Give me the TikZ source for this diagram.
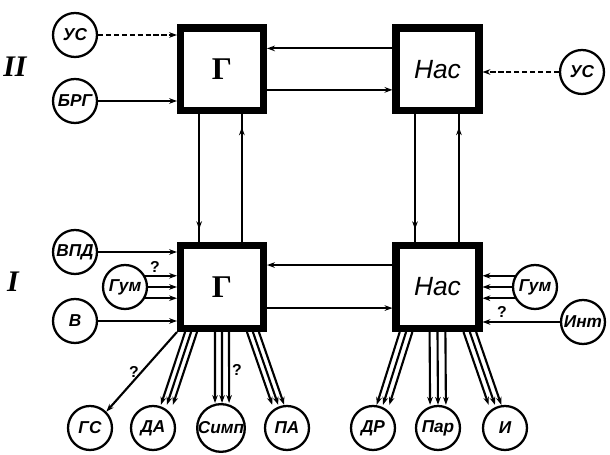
\documentclass[tikz,border=0pt]{standalone}
\usepackage{fontspec}
\setmainfont{Liberation Serif}
\setsansfont{Liberation Sans}
\usetikzlibrary{arrows.meta,decorations.markings}

\begin{document}
\begin{tikzpicture}[x=0.02cm, y=-0.02cm, line width=1.2pt, >={Stealth[length=4.5pt,width=3.2pt]},
    blk/.style={draw, line width=4pt, minimum size=1.66cm, inner sep=0pt},
    fac/.style={draw, circle, line width=1.3pt, minimum size=0.88cm, inner sep=0pt,
        font=\sffamily\bfseries\itshape\fontsize{9.8}{9.8}\selectfont},
    lvl/.style={font=\bfseries\itshape\fontsize{17}{17}\selectfont},
    q/.style={font=\sffamily\bfseries\fontsize{9}{9}\selectfont, inner sep=1pt},
    midarr/.style={postaction={decorate}, decoration={markings,
        mark=at position 0.9 with {\arrow{Stealth[length=4.5pt,width=3.2pt]}}}}]
    \useasboundingbox (0,0) rectangle (610,455);
    % Levels
    \node[lvl] (lII) at (15,67) {II};
    \node[lvl] (lI) at (13,282) {I};
    % Blocks
    \node[blk, font=\bfseries\fontsize{18}{18}\selectfont] (gII) at (222,69.5) {Г};
    \node[blk, font=\sffamily\itshape\fontsize{15}{15}\selectfont] (nasII) at (437.5,69.5) {Нас};
    \node[blk, font=\bfseries\fontsize{18}{18}\selectfont] (gI) at (222,287) {Г};
    \node[blk, font=\sffamily\itshape\fontsize{15}{15}\selectfont] (nasI) at (437.5,287) {Нас};
    % Factors
    \node[fac] (usII) at (75,35) {УС};
    \node[fac] (brg) at (75,101) {БРГ};
    \node[fac] (usR) at (582,72) {УС};
    \node[fac] (vpd) at (75,252) {ВПД};
    \node[fac] (gumL) at (125,287) {Гум};
    \node[fac] (v) at (75,321) {В};
    \node[fac] (gumR) at (535,287) {Гум};
    \node[fac] (int) at (583,322) {Инт};
    \node[fac] (gs) at (90,428) {ГС};
    \node[fac] (da) at (153,428) {ДА};
    \node[fac] (simp) at (221,428) {Симп};
    \node[fac] (pa) at (287,428) {ПА};
    \node[fac] (dr) at (373,428) {ДР};
    \node[fac] (par) at (438,428) {Пар};
    \node[fac] (i) at (505,428) {И};
    % Level II inputs
    \draw[->, dash pattern=on 3pt off 1.5pt] (usII.east) -- (usII.east -| gII.west);
    \draw[->] (brg.east) -- (brg.east -| gII.west);
    \draw[->, dash pattern=on 3pt off 1.5pt] (usR.west) -- (usR.west -| nasII.east);
    % Links between blocks
    \draw[->] ([yshift=12pt]nasII.west) -- ([yshift=12pt]gII.east);
    \draw[->] ([yshift=-11.6pt]gII.east) -- ([yshift=-11.6pt]nasII.west);
    \draw[->] ([yshift=12.5pt]nasI.west) -- ([yshift=12.5pt]gI.east);
    \draw[->] ([yshift=-12pt]gI.east) -- ([yshift=-12pt]nasI.west);
    \draw[midarr] ([xshift=-13pt]gII.south) -- ([xshift=-13pt]gI.north);
    \draw[midarr] ([xshift=11.3pt]gI.north) -- ([xshift=11.3pt]gII.south);
    \draw[midarr] ([xshift=-12.8pt]nasII.south) -- ([xshift=-12.8pt]nasI.north);
    \draw[midarr] ([xshift=12.2pt]nasI.north) -- ([xshift=12.2pt]nasII.south);
    % Level I inputs
    \draw[->] (vpd.east) -- (vpd.east -| gI.west);
    \foreach \a in {29,0,331}
        \draw[->] (gumL.\a) -- (gumL.\a -| gI.west);
    \draw[->] (v.east) -- (v.east -| gI.west);
    \node[q] (q1) at (155,267) {?};
    \foreach \a in {151,180,209}
        \draw[->] (gumR.\a) -- (gumR.\a -| nasI.east);
    \draw[->] (int.west) -- (int.west -| nasI.east);
    \node[q] (q4) at (502,312) {?};
    % Outputs of level I
    \draw[->] (gI.south west) -- (gs.45) node[q, midway, anchor=east] (q2) {?};
    \foreach \d in {-3.4,0,3.4}
        \draw[->] ([xshift=\d pt-17.6pt]gI.south) -- ([xshift=\d pt+7.9pt]da.north);
    \foreach \d in {-4,0,4}
        \draw[->] ([xshift=\d pt]gI.south) -- ([xshift=\d pt+0.6pt]simp.north);
    \node[q] (q3) at (237,370) {?};
    \foreach \d in {-3.4,0,3.4}
        \draw[->] ([xshift=\d pt+17.6pt]gI.south) -- ([xshift=\d pt-5pt]pa.north);
    \foreach \d in {-3.6,0,3.6}
        \draw[->] ([xshift=\d pt-17.9pt]nasI.south) -- ([xshift=\d pt+5.7pt]dr.north);
    \foreach \d in {-4.5,0,4.5}
        \draw[->] ([xshift=\d pt]nasI.south) -- ([xshift=\d pt]par.north);
    \foreach \d in {-3.6,0,3.6}
        \draw[->] ([xshift=\d pt+18.4pt]nasI.south) -- ([xshift=\d pt-5.7pt]i.north);
\end{tikzpicture}
\end{document}
